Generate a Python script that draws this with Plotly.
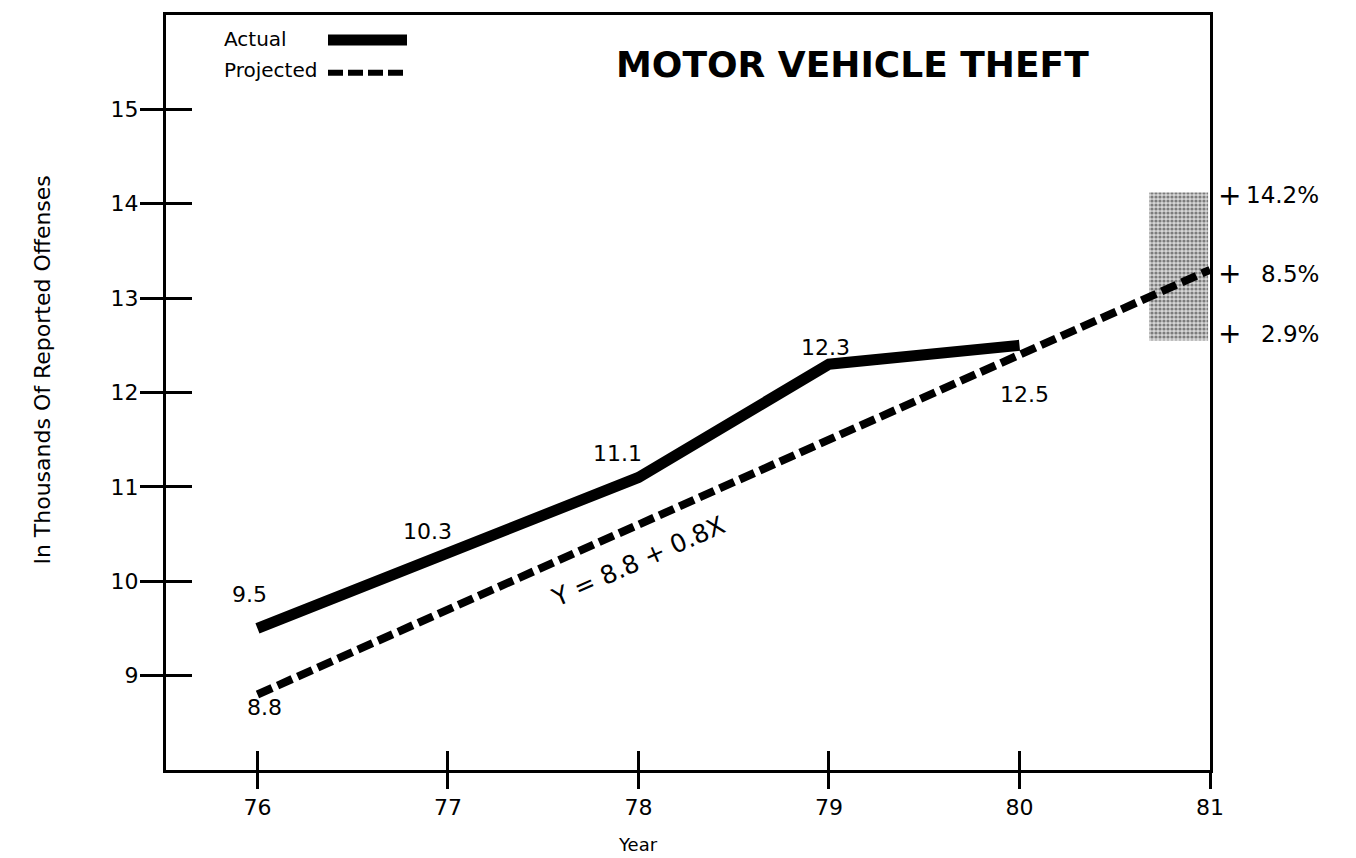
import plotly.graph_objects as go

# Reported motor vehicle thefts, in thousands
years = [76, 77, 78, 79, 80]
actual = [9.5, 10.3, 11.1, 12.3, 12.5]
actual_labels = ["9.5", "10.3", "11.1", "12.3", "12.5"]

proj_years = [76, 77, 78, 79, 80, 81]
projected = [8.8, 9.7, 10.6, 11.5, 12.4, 13.3]
proj_label = "8.8"

# 1981 projection range
range_x = 80.835
range_width = 0.31
range_low = 12.55
range_high = 14.12
range_pcts = ["14.2%", "8.5%", "2.9%"]
range_pct_y = [193, 272, 332]

x_ticks = [76, 77, 78, 79, 80, 81]
y_ticks = [9, 10, 11, 12, 13, 14, 15]

FONT = "DejaVu Sans"
W, H = 1356, 858
L, R, T, B = 166, 146, 12, 88
PW, PH = W - L - R, H - T - B


def px(x):
    return (x - L) / PW


def py(y):
    return (H - B - y) / PH


def text_at(x, y, text, size, **kw):
    opts = dict(xanchor="center", yanchor="middle")
    opts.update(kw)
    fig.add_annotation(x=px(x), y=py(y), xref="paper", yref="paper", text=text,
                       showarrow=False, font=dict(family=FONT, size=size, color="black"),
                       **opts)


fig = go.Figure()

# projection band
fig.add_trace(go.Bar(
    x=[range_x], y=[range_high - range_low], base=[range_low], width=[range_width],
    marker=dict(color="#b0b0b0", line=dict(width=0),
                pattern=dict(shape=".", size=4, solidity=0.5,
                             fgcolor="#222222", bgcolor="#d6d6d6")),
    showlegend=False, hoverinfo="skip",
))

fig.add_trace(go.Scatter(
    x=proj_years, y=projected, mode="lines",
    line=dict(color="black", width=8, dash="16px,6px"),
    showlegend=False,
))
fig.add_trace(go.Scatter(
    x=years, y=actual, mode="lines",
    line=dict(color="black", width=11),
    showlegend=False,
))

# second axis pair carrying the outward halves of the crossing ticks
fig.add_trace(go.Scatter(x=[None], y=[None], xaxis="x2", yaxis="y2",
                         showlegend=False, hoverinfo="skip"))

XR = [75.52, 81]
YR = [8, 16]
tick_font = dict(family=FONT, size=22, color="black")
fig.update_layout(
    width=W, height=H,
    margin=dict(l=L, r=R, t=T, b=B),
    paper_bgcolor="white", plot_bgcolor="white",
    barmode="overlay",
    xaxis=dict(range=XR, tickvals=x_ticks, ticktext=[str(v) for v in x_ticks],
               ticks="outside", ticklen=16, tickwidth=3, tickcolor="black",
               showline=True, linewidth=3, linecolor="black", mirror=True,
               showgrid=False, zeroline=False, tickfont=tick_font),
    yaxis=dict(range=YR, tickvals=y_ticks, ticktext=[str(v) for v in y_ticks],
               ticks="inside", ticklen=26, tickwidth=3, tickcolor="black",
               ticklabelstandoff=20,
               showline=True, linewidth=3, linecolor="black", mirror=True,
               showgrid=False, zeroline=False, tickfont=tick_font),
    xaxis2=dict(overlaying="x", matches="x", range=XR, tickvals=x_ticks,
                ticks="inside", ticklen=19, tickwidth=3, tickcolor="black",
                showticklabels=False, showline=False, showgrid=False, zeroline=False),
    yaxis2=dict(overlaying="y", matches="y", range=YR, tickvals=y_ticks,
                ticks="outside", ticklen=25, tickwidth=3, tickcolor="black",
                showticklabels=False, showline=False, showgrid=False, zeroline=False),
)

ann_font = dict(family=FONT, size=22, color="black")

# point labels
label_shift = [(-8, 34), (-20, 21), (-21, 24), (-3, 17), (5, -49)]
for yr, v, txt, (dx, dy) in zip(years, actual, actual_labels, label_shift):
    fig.add_annotation(x=yr, y=v, text=txt, showarrow=False, font=ann_font,
                       xanchor="center", yanchor="middle", xshift=dx, yshift=dy)
fig.add_annotation(x=proj_years[0], y=projected[0], text=proj_label, showarrow=False,
                   font=ann_font, xanchor="center", yanchor="middle", xshift=7, yshift=-13)

# trend equation along the projection
text_at(638, 561, "Y = 8.8 + 0.8X", 25, textangle=-24)

# projection range percentages
for pct, yy in zip(range_pcts, range_pct_y):
    text_at(1229, yy, "+", 28)
    text_at(1321, yy, pct, 23, xanchor="right")

# title
text_at(852, 62, "<b>MOTOR VEHICLE THEFT</b>", 36)

# legend
text_at(222, 36, "Actual", 20, xanchor="left")
text_at(222, 67, "Projected", 20, xanchor="left")
fig.add_shape(type="line", xref="paper", yref="paper", x0=px(328), x1=px(407),
              y0=py(37), y1=py(37), line=dict(color="black", width=11))
fig.add_shape(type="line", xref="paper", yref="paper", x0=px(328), x1=px(407),
              y0=py(70), y1=py(70), line=dict(color="black", width=6, dash="15px,5px"))

# axis titles
text_at(43, 369, "In Thousands Of Reported Offenses", 22, textangle=-90)
text_at(638, 845, "Year", 18)

fig.write_html("out.html")
